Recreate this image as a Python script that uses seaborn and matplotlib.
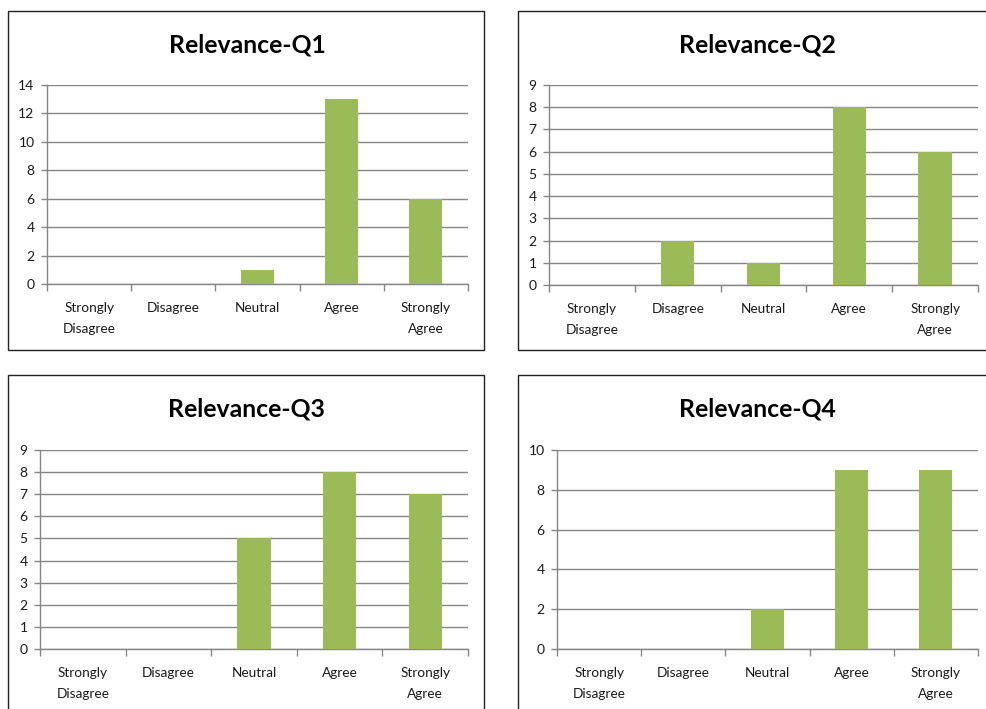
import matplotlib
matplotlib.use("Agg")
import matplotlib.pyplot as plt
from matplotlib.patches import Rectangle
from matplotlib.ticker import FixedLocator, MultipleLocator
import seaborn as sns
import pandas as pd

categories = ["Strongly\nDisagree", "Disagree", "Neutral", "Agree", "Strongly\nAgree"]
q1_counts = [0, 0, 1, 13, 6]
q2_counts = [0, 2, 1, 8, 6]
q3_counts = [0, 0, 5, 8, 7]
q4_counts = [0, 0, 2, 9, 9]
titles = ["Relevance-Q1", "Relevance-Q2", "Relevance-Q3", "Relevance-Q4"]
y_max = [14, 9, 9, 10]
y_step = [2, 1, 1, 2]

BAR = "#9BBB59"
GRID = "#868686"
FONT = "Lato"

sns.set_theme(style="white")
plt.rcParams["font.family"] = [FONT, "DejaVu Sans"]

W, H = 987, 709
fig = plt.figure(figsize=(W / 100, H / 100), dpi=100)
fig.patch.set_facecolor("white")

# pixel boxes: (left, top, right, bottom) for plot area, frame, title centre
plot_boxes = [(47, 85, 468, 284), (549, 85, 978, 285),
              (40, 450, 468, 649), (557, 450, 978, 649)]
frame_boxes = [(8, 11, 484, 350), (518, 11, 1000, 350),
               (8, 375, 484, 720), (518, 375, 1000, 720)]
title_pos = [(247, 45), (757, 45), (246, 409), (757, 409)]

series = [q1_counts, q2_counts, q3_counts, q4_counts]

for i in range(4):
    # chart frame
    l, t, r, b = frame_boxes[i]
    fig.patches.append(Rectangle((l / W, 1 - b / H), (r - l) / W, (b - t) / H,
                                 transform=fig.transFigure, fill=False,
                                 edgecolor="#222222", linewidth=1.0))
    tx, ty = title_pos[i]
    fig.text(tx / W, 1 - ty / H, titles[i], ha="center", va="center",
             fontsize=17.8, fontweight="bold", color="black")

    l, t, r, b = plot_boxes[i]
    ax = fig.add_axes([l / W, 1 - b / H, (r - l) / W, (b - t) / H])
    df = pd.DataFrame({"category": categories, "count": series[i]})
    sns.barplot(data=df, x="category", y="count", color=BAR, width=0.39,
                linewidth=0, saturation=1, ax=ax, zorder=3)
    ax.set_xlim(-0.5, 4.5)
    ax.set_ylim(0, y_max[i])
    ax.yaxis.set_major_locator(MultipleLocator(y_step[i]))
    ax.grid(axis="y", color=GRID, linewidth=1.0, zorder=0)
    ax.grid(axis="x", visible=False)
    ax.set_axisbelow(True)
    for s in ("top", "right"):
        ax.spines[s].set_visible(False)
    for s in ("left", "bottom"):
        ax.spines[s].set_color(GRID)
        ax.spines[s].set_linewidth(1.0)
    ax.set_xlabel("")
    ax.set_ylabel("")
    ax.xaxis.set_minor_locator(FixedLocator([-0.5, 0.5, 1.5, 2.5, 3.5, 4.5]))
    ax.tick_params(axis="x", which="major", length=0, pad=13, labelsize=9.8,
                   labelcolor="#1a1a1a")
    ax.tick_params(axis="x", which="minor", length=5, width=1, color=GRID,
                   direction="out", bottom=True)
    ax.tick_params(axis="y", which="major", length=4, width=1, color=GRID,
                   direction="out", left=True, pad=5, labelsize=10,
                   labelcolor="#1a1a1a")
    for lab in ax.get_xticklabels():
        lab.set_linespacing(1.85)
        lab.set_verticalalignment("top")

fig.savefig("out.png", dpi=100, facecolor="white")
